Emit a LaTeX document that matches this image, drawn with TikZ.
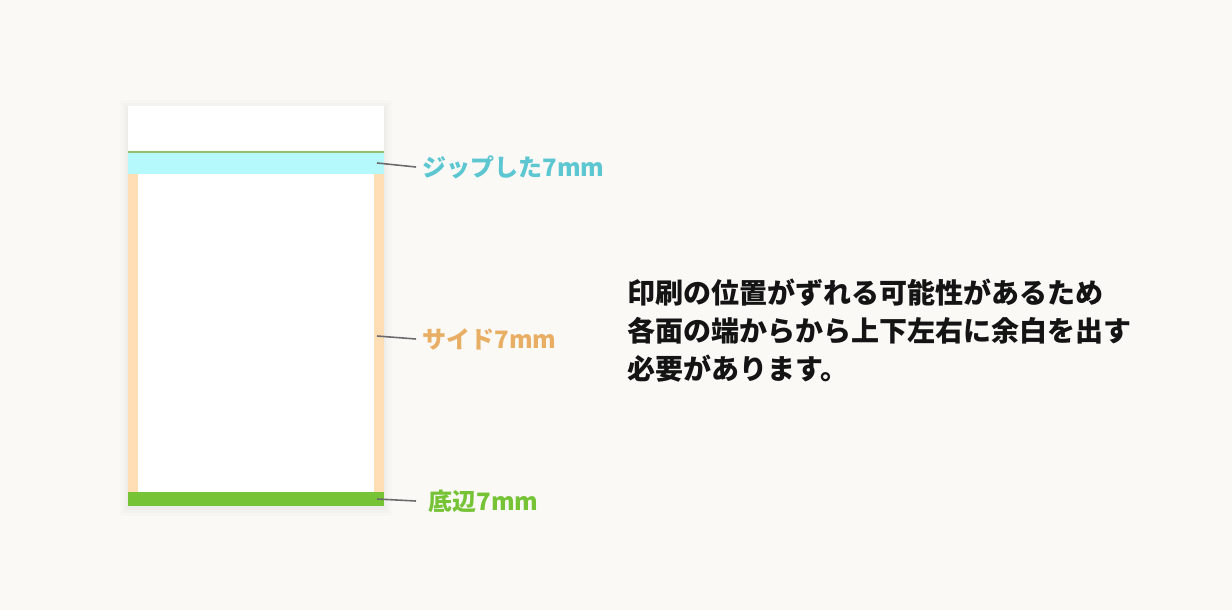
\documentclass[tikz,border=0pt]{standalone}
\usepackage{fontspec}
\setmainfont{Noto Sans CJK JP}
\usetikzlibrary{positioning}
\definecolor{bg}{HTML}{FAF9F6}
\definecolor{zipc}{HTML}{B5F9FC}
\definecolor{zipt}{HTML}{5CC6D1}
\definecolor{side}{HTML}{FFDDB5}
\definecolor{sidet}{HTML}{E8AE64}
\definecolor{bot}{HTML}{76C336}
\definecolor{edge}{HTML}{93C06F}
\definecolor{txt}{HTML}{141414}
\tikzset{
  lbl/.style={anchor=west,inner sep=0pt,font=\fontsize{12pt}{14pt}\selectfont\bfseries},
  lead/.style={draw=gray!85!black,line width=0.8pt},
}

\begin{document}
\begin{tikzpicture}[x=0.5pt,y=-0.5pt]
\useasboundingbox (0,0) rectangle (1232,610);
\fill[bg] (0,0) rectangle (1232,610);
% card with soft shadow
\foreach \s/\o in {8/0.01,5/0.015,2/0.02}
  \fill[black,opacity=\o] (128-\s,106-\s+2) rectangle (384+\s,506+\s+2);
\fill[white] (128,106) rectangle (384,506);
\fill[zipc] (128,153) rectangle (384,174);
\fill[edge] (128,151.5) rectangle (384,153.5);
\fill[side] (128,174) rectangle (138,492);
\fill[side] (374,174) rectangle (384,492);
\fill[bot] (128,492) rectangle (384,506);
% labels
\coordinate (pz) at (377,163);
\coordinate (ps) at (377,336);
\coordinate (pb) at (377,499);
\node[lbl,text=zipt] (lz) at (422,167) {ジップした7mm};
\node[lbl,text=sidet] (ls) at (422,339) {サイド7mm};
\node[lbl,text=bot] (lb) at (428,501) {底辺7mm};
\draw[lead] (pz) -- ([xshift=-3pt]lz.west);
\draw[lead] (ps) -- ([xshift=-3pt]ls.west);
\draw[lead] (pb) -- ([xshift=-6pt]lb.west);
% note
\node[anchor=base west,align=left,inner sep=0pt,text=txt,
  font=\fontsize{14pt}{19pt}\selectfont\bfseries] (note) at (627,379)
  {印刷の位置がずれる可能性があるため\\各面の端からから上下左右に余白を出す\\必要があります。};
\end{tikzpicture}
\end{document}
